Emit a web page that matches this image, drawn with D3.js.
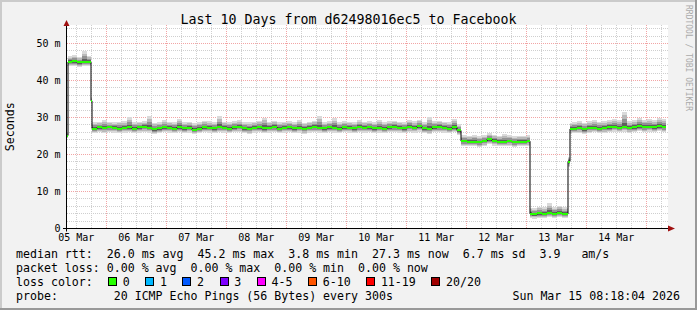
<!DOCTYPE html>
<html>
<head>
<meta charset="utf-8">
<script src="https://cdn.jsdelivr.net/npm/d3@7"></script>
<style>
  body { margin: 0; background: #fff; }
  svg { display: block; }
  text { font-family: "DejaVu Sans Mono", monospace; fill: #000; }
</style>
</head>
<body>
<script>
'use strict'

const title = 'Last 10 Days from d62498016ec5 to Facebook'
const startTime = new Date(Date.UTC(2026, 2, 5, 8, 18, 4))
const endTime = new Date(Date.UTC(2026, 2, 15, 8, 18, 4))
const yTicks = [0, 10, 20, 30, 40, 50]
const yTickLabels = ['0', '10 m', '20 m', '30 m', '40 m', '50 m']

// hours after startTime where each sample starts
const hours = [
  0,
  0.4, 2, 4, 6, 8,
  9.6,
  10, 12, 14, 16, 18, 20, 22, 24, 26, 28,
  30, 32, 34, 36, 38, 40, 42, 44, 46, 48,
  50, 52, 54, 56, 58, 60, 62, 64, 66, 68,
  70, 72, 74, 76, 78, 80, 82, 84, 86, 88,
  90, 92, 94, 96, 98, 100, 102, 104, 106, 108,
  110, 112, 114, 116, 118, 120, 122, 124, 126, 128,
  130, 132, 134, 136, 138, 140, 142, 144, 146, 148,
  150, 152, 154, 156,
  157.6, 160, 162, 164, 166, 168, 170, 172, 174, 176, 178, 180, 182, 184,
  185.2, 186, 188, 190, 192, 194, 196, 198, 200,
  200.4,
  201.2, 202, 204, 206, 208, 210, 212, 214, 216, 218, 220, 222, 224, 226, 228, 230, 232, 234, 236, 238
]
const dataEnd = 239.6

// median rtt in ms
const median = [
  25.1,
  45.0, 45.2, 44.9, 45.1, 45.0,
  34.5,
  27.0, 27.3, 27.1, 27.4, 27.2, 26.9, 27.2, 27.3, 27.0, 27.3,
  27.5, 27.2, 26.8, 27.1, 27.3, 27.2, 27.0, 27.4, 27.1, 27.2,
  26.7, 27.0, 27.3, 27.2, 27.1, 27.4, 27.2, 27.0, 27.3, 27.5,
  27.1, 26.9, 27.2, 27.3, 27.1, 27.2, 27.4, 27.0, 27.2, 27.3,
  27.1, 27.2, 26.9, 27.2, 27.4, 27.2, 27.1, 27.3, 27.2, 27.0,
  27.3, 27.2, 27.1, 27.4, 27.2, 27.3, 27.1, 27.2, 27.0, 27.3,
  27.4, 27.2, 27.1, 27.5, 27.2, 27.6, 27.1, 26.9, 27.3, 27.4,
  27.2, 27.0, 27.3, 26.5,
  23.6, 23.4, 23.5, 23.3, 23.6, 24.1, 23.7, 23.5, 23.4, 23.6, 23.3, 23.5, 23.4, 23.6,
  4.0, 3.8, 4.1, 3.9, 4.2, 4.0, 4.3, 4.0, 3.9,
  18.1,
  26.9, 27.0, 27.1, 26.8, 27.1, 27.2, 27.0, 27.1, 27.3, 27.4, 27.2, 27.5, 27.1, 27.3, 27.6, 27.4, 27.5, 27.3, 27.6, 27.4
]

// lowest / highest ping of each sample (smoke extent), ms
const smokeLo = [
  24.4,
  43.8, 43.9, 43.7, 43.8, 43.9,
  33.6,
  25.8, 26.0, 25.9, 26.1, 25.9, 25.7, 25.9, 26.0, 25.8, 25.9,
  26.1, 25.9, 25.6, 25.8, 26.0, 25.9, 25.8, 26.0, 25.8, 25.9,
  25.5, 25.8, 26.0, 25.9, 25.8, 26.1, 25.9, 25.7, 26.0, 26.1,
  25.8, 25.6, 25.9, 26.0, 25.8, 25.9, 26.1, 25.7, 25.9, 26.0,
  25.8, 25.9, 25.6, 25.9, 26.1, 25.9, 25.8, 26.0, 25.9, 25.7,
  26.0, 25.9, 25.8, 26.1, 25.9, 26.0, 25.8, 25.9, 25.7, 26.0,
  26.1, 25.9, 25.8, 26.1, 25.9, 26.2, 25.8, 25.6, 26.0, 26.1,
  25.9, 25.7, 26.0, 25.3,
  22.3, 22.2, 22.3, 22.1, 22.4, 22.8, 22.4, 22.2, 22.2, 22.4, 22.1, 22.3, 22.2, 22.4,
  2.8, 2.7, 2.9, 2.8, 3.0, 2.8, 3.1, 2.9, 2.8,
  16.6,
  25.6, 25.8, 25.9, 25.5, 25.9, 26.0, 25.8, 25.9, 26.1, 26.2, 26.0, 26.2, 25.9, 26.1, 26.3, 26.1, 26.2, 26.0, 26.3, 26.1
]
const smokeHi = [
  25.9,
  46.6, 46.9, 46.4, 47.9, 46.7,
  35.4,
  28.7, 28.9, 29.4, 28.8, 28.7, 28.9, 29.0, 30.1, 28.8, 28.9,
  29.0, 30.3, 28.6, 28.8, 29.2, 28.9, 28.7, 29.6, 28.8, 28.9,
  28.5, 28.8, 29.1, 29.0, 28.8, 30.4, 28.9, 28.7, 29.0, 29.2,
  28.8, 28.7, 28.9, 29.1, 29.9, 28.9, 29.1, 28.7, 28.9, 29.0,
  28.8, 29.3, 28.6, 28.9, 29.1, 30.3, 28.8, 29.0, 29.8, 28.7,
  29.0, 28.9, 28.8, 29.2, 28.9, 29.0, 28.8, 29.4, 28.7, 29.0,
  29.1, 28.9, 28.8, 29.3, 29.0, 29.4, 28.8, 30.2, 29.0, 29.1,
  28.9, 28.8, 29.6, 28.2,
  25.2, 25.0, 25.3, 24.9, 25.2, 25.7, 25.3, 25.1, 25.6, 25.2, 24.9, 25.1, 25.0, 25.2,
  5.6, 5.5, 5.9, 5.7, 6.8, 5.8, 6.2, 5.7, 5.6,
  19.4,
  28.6, 28.8, 29.0, 28.6, 29.1, 29.2, 28.9, 29.0, 29.4, 29.6, 29.2, 31.6, 29.1, 29.3, 29.8, 29.4, 29.6, 29.3, 29.8, 29.5
]

const lossLabels = ['0', '1', '2', '3', '4-5', '6-10', '11-19', '20/20']
const lossColors = ['#26ff00', '#00b8ff', '#0059ff', '#7e00ff', '#ff00ff', '#ff5500', '#ff0000', '#a00000']

const legendRtt = 'median rtt:  26.0 ms avg  45.2 ms max  3.8 ms min  27.3 ms now  6.7 ms sd  3.9   am/s'
const legendLoss = 'packet loss: 0.00 % avg  0.00 % max  0.00 % min  0.00 % now'
const legendColor = 'loss color:'
const legendProbe = 'probe:        20 ICMP Echo Pings (56 Bytes) every 300s'
const stamp = 'Sun Mar 15 08:18:04 2026'

const W = 697, H = 310
const plot = {left: 67, right: 667, top: 25, bottom: 228.5}

const x = d3.scaleTime().domain([startTime, endTime]).range([plot.left, plot.right])
const y = d3.scaleLinear().domain([0, 55]).range([plot.bottom, plot.top])
const toDate = h => new Date(+startTime + h * 3600e3)
const px = v => Math.round(v - 0.5) + 0.5
// keep runs of spaces in svg text
const keep = s => s.replace(/ /g, '\u00a0')

const svg = d3.select('body').append('svg')
  .attr('width', W).attr('height', H)

// frame
svg.append('rect').attr('width', W).attr('height', H).attr('fill', '#f2f2f2')
svg.append('rect').attr('width', W).attr('height', 2).attr('fill', '#cbcbcb')
svg.append('rect').attr('width', 2).attr('height', H).attr('fill', '#cbcbcb')
svg.append('rect').attr('y', H - 2).attr('width', W).attr('height', 2).attr('fill', '#999')
svg.append('rect').attr('x', W - 2).attr('width', 2).attr('height', H).attr('fill', '#999')

svg.append('rect')
  .attr('x', plot.left).attr('y', plot.top)
  .attr('width', plot.right - plot.left + 1).attr('height', plot.bottom - plot.top)
  .attr('fill', '#fff')

// grid
const grid = svg.append('g').attr('shape-rendering', 'crispEdges').attr('stroke-dasharray', '1,1')
const minorY = d3.range(2, 55, 2).filter(v => v % 10 !== 0)
const majorY = yTicks.filter(v => v > 0)
const midnights = d3.utcDay.range(startTime, endTime)
const minorX = d3.utcHour.every(6).range(startTime, endTime).filter(d => d.getUTCHours() !== 0)

grid.selectAll('.hmin').data(minorY).enter().append('line')
  .attr('x1', plot.left).attr('x2', plot.right + 1)
  .attr('y1', d => px(y(d))).attr('y2', d => px(y(d)))
  .attr('stroke', '#cfcfcf')
grid.selectAll('.vmin').data(minorX).enter().append('line')
  .attr('x1', d => px(x(d))).attr('x2', d => px(x(d)))
  .attr('y1', plot.top).attr('y2', plot.bottom)
  .attr('stroke', '#cfcfcf')
grid.selectAll('.hmaj').data(majorY).enter().append('line')
  .attr('x1', plot.left).attr('x2', plot.right + 1)
  .attr('y1', d => px(y(d))).attr('y2', d => px(y(d)))
  .attr('stroke', '#f2a5a5')
grid.selectAll('.vmaj').data(midnights).enter().append('line')
  .attr('x1', d => px(x(d))).attr('x2', d => px(x(d)))
  .attr('y1', plot.top).attr('y2', plot.bottom)
  .attr('stroke', '#f2a5a5')

// samples
const pts = hours.map((h, i) => ({t: toDate(h), m: median[i], lo: smokeLo[i], hi: smokeHi[i]}))
const stepPts = pts.concat([Object.assign({}, pts[pts.length - 1], {t: toDate(dataEnd)})])

// smoke: lighter outside, darker near the median
const smokeLayers = [[1, '#dadada'], [0.75, '#bababa'], [0.5, '#929292'], [0.27, '#5e5e5e']]
const smoke = svg.append('g').attr('shape-rendering', 'crispEdges')
smokeLayers.forEach(([f, c]) => {
  const area = d3.area()
    .curve(d3.curveStepAfter)
    .x(d => x(d.t))
    .y0(d => y(d.m - f * (d.m - d.lo)))
    .y1(d => y(d.m + f * (d.hi - d.m)))
  smoke.append('path').attr('d', area(stepPts)).attr('fill', c)
})

// median line
const line = d3.line().curve(d3.curveStepAfter).x(d => x(d.t)).y(d => y(d.m))
svg.append('path').attr('d', line(stepPts))
  .attr('fill', 'none').attr('stroke', '#000').attr('stroke-width', 1)

svg.append('g').attr('shape-rendering', 'crispEdges')
  .selectAll('rect').data(pts).enter().append('rect')
  .attr('x', d => x(d.t))
  .attr('width', (d, i) => x(stepPts[i + 1].t) - x(d.t))
  .attr('y', d => Math.round(y(d.m) - 1))
  .attr('height', 2)
  .attr('fill', lossColors[0])

// axes
const axisCol = '#000', arrowCol = '#a01010'
svg.append('line').attr('x1', plot.left - 4).attr('x2', plot.right + 3)
  .attr('y1', plot.bottom).attr('y2', plot.bottom).attr('stroke', axisCol)
svg.append('line').attr('x1', plot.left - 0.5).attr('x2', plot.left - 0.5)
  .attr('y1', plot.bottom + 3).attr('y2', plot.top).attr('stroke', axisCol)
svg.append('path').attr('d', `M${plot.right + 1},${plot.bottom - 3}L${plot.right + 8},${plot.bottom}L${plot.right + 1},${plot.bottom + 3}Z`)
  .attr('fill', arrowCol)
svg.append('path').attr('d', `M${plot.left - 3.5},${plot.top + 1}L${plot.left - 0.5},${plot.top - 5}L${plot.left + 2.5},${plot.top + 1}Z`)
  .attr('fill', arrowCol)

// y labels
svg.append('g').selectAll('text').data(yTicks).enter().append('text')
  .attr('x', 60.5).attr('y', d => y(d) + 3.6)
  .attr('text-anchor', 'end').attr('font-size', '10px')
  .text((d, i) => keep(yTickLabels[i]))

// x labels at noon
const noons = d3.utcDay.range(d3.utcDay.floor(startTime), endTime)
  .map(d => d3.utcHour.offset(d, 12))
  .filter(d => d >= startTime && d <= endTime)
const fmt = d3.utcFormat('%d %b')
svg.append('g').selectAll('text').data(noons).enter().append('text')
  .attr('x', d => x(d)).attr('y', 241)
  .attr('text-anchor', 'middle').attr('font-size', '10px')
  .text(d => keep(fmt(d)))

// title & side texts
svg.append('text').attr('x', 348.5).attr('y', 23.5).attr('text-anchor', 'middle')
  .attr('font-size', '13.3px').text(keep(title))
svg.append('text').attr('transform', `translate(14,${(plot.top + plot.bottom) / 2}) rotate(-90)`)
  .attr('text-anchor', 'middle').attr('font-size', '11.6px').text('Seconds')
svg.append('text').attr('transform', 'translate(685.5,5) rotate(90)')
  .attr('font-size', '8px').style('fill', '#aaa')
  .text(keep('RRDTOOL / TOBI OETIKER'))

// legend
const leg = svg.append('g').attr('font-size', '11.6px')
leg.append('text').attr('x', 16).attr('y', 257.5).text(keep(legendRtt))
leg.append('text').attr('x', 16).attr('y', 271.8).text(keep(legendLoss))
leg.append('text').attr('x', 16).attr('y', 286).text(keep(legendColor))
leg.append('text').attr('x', 16).attr('y', 300.3).text(keep(legendProbe))
leg.append('text').attr('x', 680).attr('y', 300.3).attr('text-anchor', 'end').text(keep(stamp))

let sx = 108.5
lossLabels.forEach((lab, i) => {
  leg.append('rect').attr('x', sx).attr('y', 277.5).attr('width', 8).attr('height', 8)
    .attr('fill', lossColors[i]).attr('stroke', '#000').attr('shape-rendering', 'crispEdges')
  leg.append('text').attr('x', sx + 14.2).attr('y', 286).text(lab)
  sx += 14.2 + 7 * lab.length + 16
})
</script>
</body>
</html>
